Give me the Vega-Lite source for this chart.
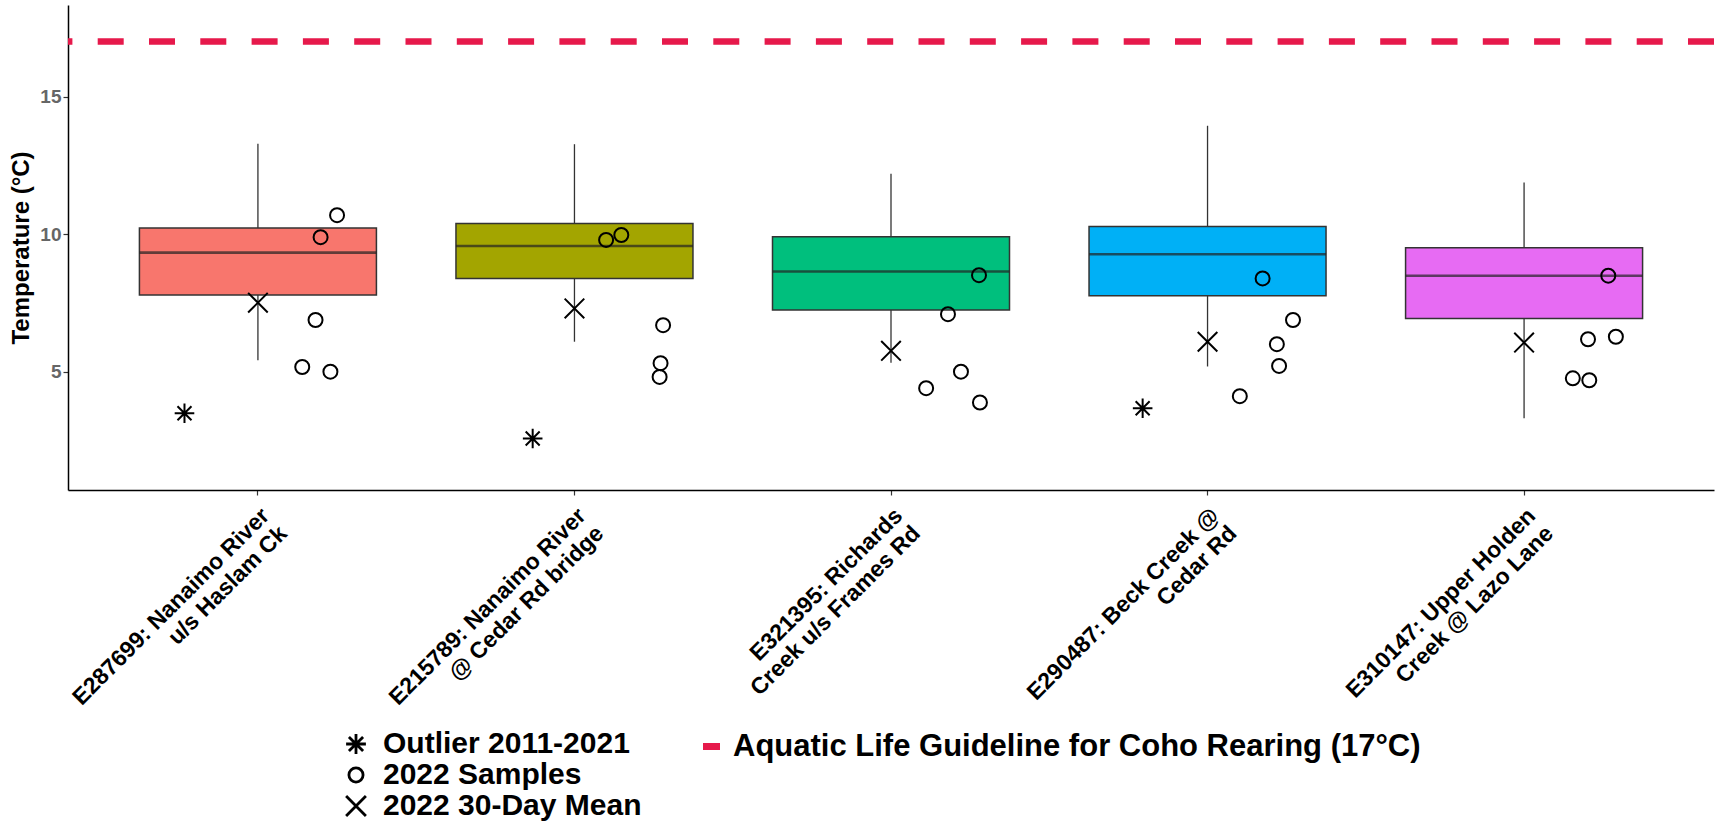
{
  "$schema": "https://vega.github.io/schema/vega-lite/v6.json",
  "width": 1646,
  "height": 485,
  "autosize": {"type": "none"},
  "padding": {"left": 68, "top": 5, "right": 2, "bottom": 335},
  "background": "white",
  "config": {
    "view": {"stroke": null},
    "font": "Liberation Sans",
    "axis": {"grid": false, "domainColor": "black", "domainWidth": 1.5, "tickColor": "#333333", "tickSize": 5, "tickWidth": 1.2}
  },
  "datasets": {
    "boxes": [
      {"station": "E287699: Nanaimo River|u/s Haslam Ck", "lower": 5.42, "q1": 7.79, "median": 9.33, "q3": 10.22, "upper": 13.29},
      {"station": "E215789: Nanaimo River|@ Cedar Rd bridge", "lower": 6.09, "q1": 8.39, "median": 9.57, "q3": 10.39, "upper": 13.27},
      {"station": "E321395: Richards|Creek u/s Frames Rd", "lower": 5.33, "q1": 7.24, "median": 8.64, "q3": 9.91, "upper": 12.2},
      {"station": "E290487: Beck Creek @|Cedar Rd", "lower": 5.19, "q1": 7.76, "median": 9.27, "q3": 10.28, "upper": 13.94},
      {"station": "E310147: Upper Holden|Creek @ Lazo Lane", "lower": 3.31, "q1": 6.93, "median": 8.49, "q3": 9.51, "upper": 11.88}
    ],
    "points": [
      {"station": "E287699: Nanaimo River|u/s Haslam Ck", "type": "Outlier 2011-2021", "temp": 3.49, "jit": -0.232},
      {"station": "E287699: Nanaimo River|u/s Haslam Ck", "type": "2022 30-Day Mean", "temp": 7.51, "jit": 0},
      {"station": "E287699: Nanaimo River|u/s Haslam Ck", "type": "2022 Samples", "temp": 10.69, "jit": 0.25},
      {"station": "E287699: Nanaimo River|u/s Haslam Ck", "type": "2022 Samples", "temp": 9.89, "jit": 0.198},
      {"station": "E287699: Nanaimo River|u/s Haslam Ck", "type": "2022 Samples", "temp": 6.88, "jit": 0.182},
      {"station": "E287699: Nanaimo River|u/s Haslam Ck", "type": "2022 Samples", "temp": 5.17, "jit": 0.14},
      {"station": "E287699: Nanaimo River|u/s Haslam Ck", "type": "2022 Samples", "temp": 5.0, "jit": 0.229},
      {"station": "E215789: Nanaimo River|@ Cedar Rd bridge", "type": "Outlier 2011-2021", "temp": 2.57, "jit": -0.132},
      {"station": "E215789: Nanaimo River|@ Cedar Rd bridge", "type": "2022 30-Day Mean", "temp": 7.3, "jit": 0},
      {"station": "E215789: Nanaimo River|@ Cedar Rd bridge", "type": "2022 Samples", "temp": 9.79, "jit": 0.1},
      {"station": "E215789: Nanaimo River|@ Cedar Rd bridge", "type": "2022 Samples", "temp": 9.97, "jit": 0.148},
      {"station": "E215789: Nanaimo River|@ Cedar Rd bridge", "type": "2022 Samples", "temp": 6.69, "jit": 0.28},
      {"station": "E215789: Nanaimo River|@ Cedar Rd bridge", "type": "2022 Samples", "temp": 5.31, "jit": 0.272},
      {"station": "E215789: Nanaimo River|@ Cedar Rd bridge", "type": "2022 Samples", "temp": 4.81, "jit": 0.269},
      {"station": "E321395: Richards|Creek u/s Frames Rd", "type": "2022 30-Day Mean", "temp": 5.76, "jit": 0},
      {"station": "E321395: Richards|Creek u/s Frames Rd", "type": "2022 Samples", "temp": 8.51, "jit": 0.278},
      {"station": "E321395: Richards|Creek u/s Frames Rd", "type": "2022 Samples", "temp": 7.09, "jit": 0.18},
      {"station": "E321395: Richards|Creek u/s Frames Rd", "type": "2022 Samples", "temp": 5.0, "jit": 0.221},
      {"station": "E321395: Richards|Creek u/s Frames Rd", "type": "2022 Samples", "temp": 4.4, "jit": 0.111},
      {"station": "E321395: Richards|Creek u/s Frames Rd", "type": "2022 Samples", "temp": 3.88, "jit": 0.281},
      {"station": "E290487: Beck Creek @|Cedar Rd", "type": "Outlier 2011-2021", "temp": 3.67, "jit": -0.205},
      {"station": "E290487: Beck Creek @|Cedar Rd", "type": "2022 30-Day Mean", "temp": 6.09, "jit": 0},
      {"station": "E290487: Beck Creek @|Cedar Rd", "type": "2022 Samples", "temp": 8.39, "jit": 0.174},
      {"station": "E290487: Beck Creek @|Cedar Rd", "type": "2022 Samples", "temp": 6.88, "jit": 0.27},
      {"station": "E290487: Beck Creek @|Cedar Rd", "type": "2022 Samples", "temp": 6.0, "jit": 0.219},
      {"station": "E290487: Beck Creek @|Cedar Rd", "type": "2022 Samples", "temp": 5.21, "jit": 0.226},
      {"station": "E290487: Beck Creek @|Cedar Rd", "type": "2022 Samples", "temp": 4.11, "jit": 0.102},
      {"station": "E310147: Upper Holden|Creek @ Lazo Lane", "type": "2022 30-Day Mean", "temp": 6.06, "jit": 0},
      {"station": "E310147: Upper Holden|Creek @ Lazo Lane", "type": "2022 Samples", "temp": 8.49, "jit": 0.266},
      {"station": "E310147: Upper Holden|Creek @ Lazo Lane", "type": "2022 Samples", "temp": 6.18, "jit": 0.202},
      {"station": "E310147: Upper Holden|Creek @ Lazo Lane", "type": "2022 Samples", "temp": 6.27, "jit": 0.29},
      {"station": "E310147: Upper Holden|Creek @ Lazo Lane", "type": "2022 Samples", "temp": 4.76, "jit": 0.154},
      {"station": "E310147: Upper Holden|Creek @ Lazo Lane", "type": "2022 Samples", "temp": 4.69, "jit": 0.206}
    ],
    "guide": [
      {"guide": "Aquatic Life Guideline for Coho Rearing (17°C)", "temp": 17}
    ]
  },
  "layer": [
    {
      "data": {"name": "boxes"},
      "mark": {"type": "rule", "color": "#333333", "strokeWidth": 1.3},
      "encoding": {
        "x": {
          "field": "station", "type": "nominal",
          "scale": {
            "type": "band", "paddingInner": 0, "paddingOuter": 0.1,
            "domain": [
              "E287699: Nanaimo River|u/s Haslam Ck",
              "E215789: Nanaimo River|@ Cedar Rd bridge",
              "E321395: Richards|Creek u/s Frames Rd",
              "E290487: Beck Creek @|Cedar Rd",
              "E310147: Upper Holden|Creek @ Lazo Lane"
            ]
          },
          "axis": {
            "title": null,
            "labelAngle": -45, "labelAlign": "right", "labelBaseline": "top",
            "labelFontSize": 23, "labelFontWeight": "bold", "labelColor": "black",
            "labelPadding": 9, "labelLineHeight": 25, "labelLimit": 0,
            "labelExpr": "split(datum.label, '|')"
          }
        },
        "y": {
          "field": "lower", "type": "quantitative",
          "scale": {"domain": [0.7, 18.33], "nice": false, "zero": false},
          "axis": {
            "values": [5, 10, 15], "title": "Temperature (°C)",
            "titleFontSize": 24, "titleFontWeight": "bold", "titleColor": "black", "titlePadding": 6,
            "labelFontSize": 19, "labelFontWeight": "bold", "labelColor": "#666666", "labelPadding": 2
          }
        },
        "y2": {"field": "upper"}
      }
    },
    {
      "data": {"name": "boxes"},
      "mark": {"type": "bar", "width": 237, "stroke": "#333333", "strokeWidth": 1.5},
      "encoding": {
        "x": {"field": "station", "type": "nominal"},
        "y": {"field": "q1", "type": "quantitative"},
        "y2": {"field": "q3"},
        "fill": {
          "field": "station", "type": "nominal", "legend": null,
          "scale": {
            "domain": [
              "E287699: Nanaimo River|u/s Haslam Ck",
              "E215789: Nanaimo River|@ Cedar Rd bridge",
              "E321395: Richards|Creek u/s Frames Rd",
              "E290487: Beck Creek @|Cedar Rd",
              "E310147: Upper Holden|Creek @ Lazo Lane"
            ],
            "range": ["#F8766D", "#A3A500", "#00BF7D", "#00B0F6", "#E76BF3"]
          }
        }
      }
    },
    {
      "data": {"name": "boxes"},
      "mark": {"type": "tick", "size": 237, "thickness": 2.6, "color": "#222222"},
      "encoding": {
        "x": {"field": "station", "type": "nominal"},
        "y": {"field": "median", "type": "quantitative"}
      }
    },
    {
      "data": {"name": "guide"},
      "mark": {"type": "rule", "strokeWidth": 6.5, "strokeDash": [26, 25.3]},
      "encoding": {
        "y": {"field": "temp", "type": "quantitative"},
        "stroke": {
          "field": "guide", "type": "nominal",
          "scale": {"range": ["#E6194B"]},
          "legend": {
            "title": null, "orient": "none", "legendX": 628, "legendY": 726,
            "symbolType": "stroke", "symbolStrokeWidth": 7, "symbolSize": 289,
            "labelFontSize": 31, "labelFontWeight": "bold", "labelColor": "black",
            "labelOffset": 6, "labelLimit": 0, "symbolDash": [40, 0]
          }
        }
      }
    },
    {
      "data": {"name": "points"},
      "mark": {"type": "point", "filled": false, "size": 196, "strokeWidth": 2, "color": "black", "opacity": 1},
      "encoding": {
        "x": {"field": "station", "type": "nominal"},
        "y": {"field": "temp", "type": "quantitative"},
        "xOffset": {"field": "jit", "type": "quantitative", "scale": {"domain": [-0.5, 0.5]}},
        "shape": {
          "field": "type", "type": "nominal",
          "scale": {
            "domain": ["Outlier 2011-2021", "2022 Samples", "2022 30-Day Mean"],
            "range": [
              "M-1.4,0L1.4,0M0,-1.4L0,1.4M-1,-1L1,1M-1,1L1,-1",
              "circle",
              "M-1.4,-1.4L1.4,1.4M-1.4,1.4L1.4,-1.4"
            ]
          },
          "legend": {
            "title": null, "orient": "none", "legendX": 273, "legendY": 724,
            "symbolSize": 200, "symbolStrokeWidth": 2.8, "symbolStrokeColor": "black",
            "labelFontSize": 30, "labelFontWeight": "bold", "labelColor": "black",
            "labelOffset": 12, "rowPadding": 0, "labelLimit": 0
          }
        }
      }
    }
  ]
}
